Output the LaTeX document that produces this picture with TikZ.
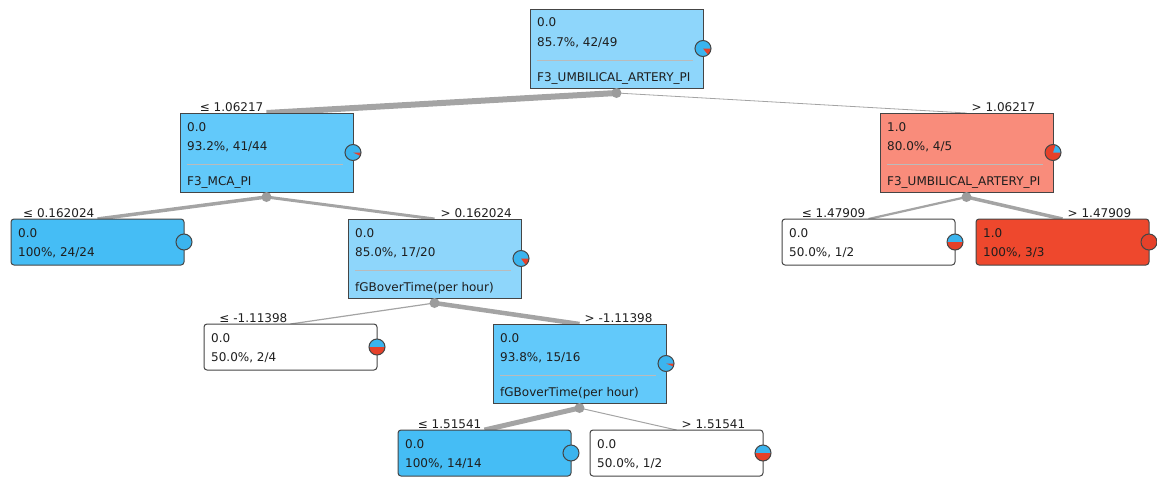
\documentclass[tikz,border=0pt]{standalone}
\usepackage{fontspec}
\setmainfont{DejaVu Sans}
\usetikzlibrary{calc}
\definecolor{rootblue}{HTML}{8ED6FB}
\definecolor{midblue}{HTML}{62C9FA}
\definecolor{leafblue}{HTML}{45BDF5}
\definecolor{salmon}{HTML}{F98C7B}
\definecolor{leafred}{HTML}{EE482D}
\definecolor{pieblue}{HTML}{3BB4EE}
\definecolor{piered}{HTML}{E6412A}
\definecolor{bordercol}{HTML}{454545}
\definecolor{edgecol}{HTML}{A4A4A4}
\definecolor{sepcol}{HTML}{BBBBBB}
\definecolor{txtcol}{HTML}{1E1E1E}
\pgfdeclarelayer{bg}
\pgfsetlayers{bg,main}
\tikzset{
  inner/.style={draw=bordercol, line width=1, minimum width=173, minimum height=79, anchor=north west, inner sep=0, outer sep=0},
  leaf/.style={draw=bordercol, line width=1, minimum width=173, minimum height=46, anchor=north west, inner sep=0, outer sep=0, rounded corners=3},
  txt/.style={font=\fontsize{12}{14}\selectfont, text=txtcol, inner sep=0, anchor=base west},
  lbl/.style={font=\fontsize{12}{14}\selectfont, text=txtcol, inner sep=0},
  sep/.style={draw=sepcol, line width=1},
  edge/.style={draw=edgecol},
  dot/.style={circle, fill=edgecol!95!black, minimum size=10, inner sep=0},
}
\newcommand\drawpie[2]{%
  \fill[pieblue] (#1.east) circle (8);
  \ifnum#2>0 \fill[piered] (#1.east) -- ++(0:8) arc[start angle=0,end angle=#2,radius=8] -- cycle;\fi
  \draw[bordercol, line width=1] (#1.east) circle (8);}
\begin{document}
\begin{tikzpicture}[x=1pt,y=-1pt]
\useasboundingbox (0,0) rectangle (1157,479);
% boxes
\node[inner, fill=rootblue] (root) at (530,9) {};
\node[inner, fill=midblue] (nA) at (180,113) {};
\node[inner, fill=salmon] (nB) at (880,113) {};
\node[leaf, fill=leafblue] (nC) at (11,219) {};
\node[inner, fill=rootblue] (nD) at (348,219) {};
\node[leaf, fill=white] (nE) at (782,219) {};
\node[leaf, fill=leafred] (nF) at (976,219) {};
\node[leaf, fill=white] (nG) at (204,324) {};
\node[inner, fill=midblue] (nH) at (493,324) {};
\node[leaf, fill=leafblue] (nI) at (398,430) {};
\node[leaf, fill=white] (nJ) at (590,430) {};
% texts
\foreach \n/\a/\b in {root/0.0/{85.7\%, 42/49}, nA/0.0/{93.2\%, 41/44}, nB/1.0/{80.0\%, 4/5}, nC/0.0/{100\%, 24/24}, nD/0.0/{85.0\%, 17/20}, nE/0.0/{50.0\%, 1/2}, nF/1.0/{100\%, 3/3}, nG/0.0/{50.0\%, 2/4}, nH/0.0/{93.8\%, 15/16}, nI/0.0/{100\%, 14/14}, nJ/0.0/{50.0\%, 1/2}}{
  \node[txt] (\n-t1) at ($(\n.north west)+(7,18)$) {\a};
  \node[txt] (\n-t2) at ($(\n.north west)+(7,37)$) {\b};
}
\foreach \n/\c in {root/F3\_UMBILICAL\_ARTERY\_PI, nA/F3\_MCA\_PI, nB/F3\_UMBILICAL\_ARTERY\_PI, nD/fGBoverTime(per hour), nH/fGBoverTime(per hour)}{
  \draw[sep] ($(\n.north west)+(7,51)$) -- ($(\n.north east)+(-10,51)$);
  \node[txt] (\n-t3) at ($(\n.north west)+(7,72)$) {\c};
}
% pies
\drawpie{root}{51}
\drawpie{nA}{25}
\drawpie{nB}{288}
\drawpie{nC}{0}
\drawpie{nD}{54}
\drawpie{nE}{180}
\drawpie{nF}{360}
\drawpie{nG}{180}
\drawpie{nH}{22}
\drawpie{nI}{0}
\drawpie{nJ}{180}
% split dots
\node[dot] (dRoot) at ($(root.south)+(0,5)$) {};
\node[dot] (dA) at ($(nA.south)+(0,5)$) {};
\node[dot] (dB) at ($(nB.south)+(0,5)$) {};
\node[dot] (dD) at ($(nD.south)+(0,5)$) {};
\node[dot] (dH) at ($(nH.south)+(0,5)$) {};
% edges
\begin{pgfonlayer}{bg}
\draw[edge, line width=6] (dRoot.center) -- (nA.north);
\draw[edge, line width=0.8] (dRoot.center) -- (nB.north);
\draw[edge, line width=3.5] (dA.center) -- (nC.north);
\draw[edge, line width=3] (dA.center) -- (nD.north);
\draw[edge, line width=1.2] (dD.center) -- (nG.north);
\draw[edge, line width=4.5] (dD.center) -- (nH.north);
\draw[edge, line width=5] (dH.center) -- (nI.north);
\draw[edge, line width=1] (dH.center) -- (nJ.north);
\draw[edge, line width=2.2] (dB.center) -- (nE.north);
\draw[edge, line width=3.5] (dB.center) -- (nF.north);
\end{pgfonlayer}
% edge labels
\node[lbl, anchor=base east] (lA) at ($(nA.north)+(-3,-2)$) {≤ 1.06217};
\node[lbl, anchor=base west] (lB) at ($(nB.north)+(5,-2)$) {> 1.06217};
\node[lbl, anchor=base east] (lC) at ($(nC.north)+(-3,-2)$) {≤ 0.162024};
\node[lbl, anchor=base west] (lD) at ($(nD.north)+(6,-2)$) {> 0.162024};
\node[lbl, anchor=base east] (lE) at ($(nE.north)+(-3,-2)$) {≤ 1.47909};
\node[lbl, anchor=base west] (lF) at ($(nF.north)+(5,-2)$) {> 1.47909};
\node[lbl, anchor=base east] (lG) at ($(nG.north)+(-3,-2)$) {≤ -1.11398};
\node[lbl, anchor=base west] (lH) at ($(nH.north)+(5,-2)$) {> -1.11398};
\node[lbl, anchor=base east] (lI) at ($(nI.north)+(-3,-2)$) {≤ 1.51541};
\node[lbl, anchor=base west] (lJ) at ($(nJ.north)+(5,-2)$) {> 1.51541};
\end{tikzpicture}
\end{document}
